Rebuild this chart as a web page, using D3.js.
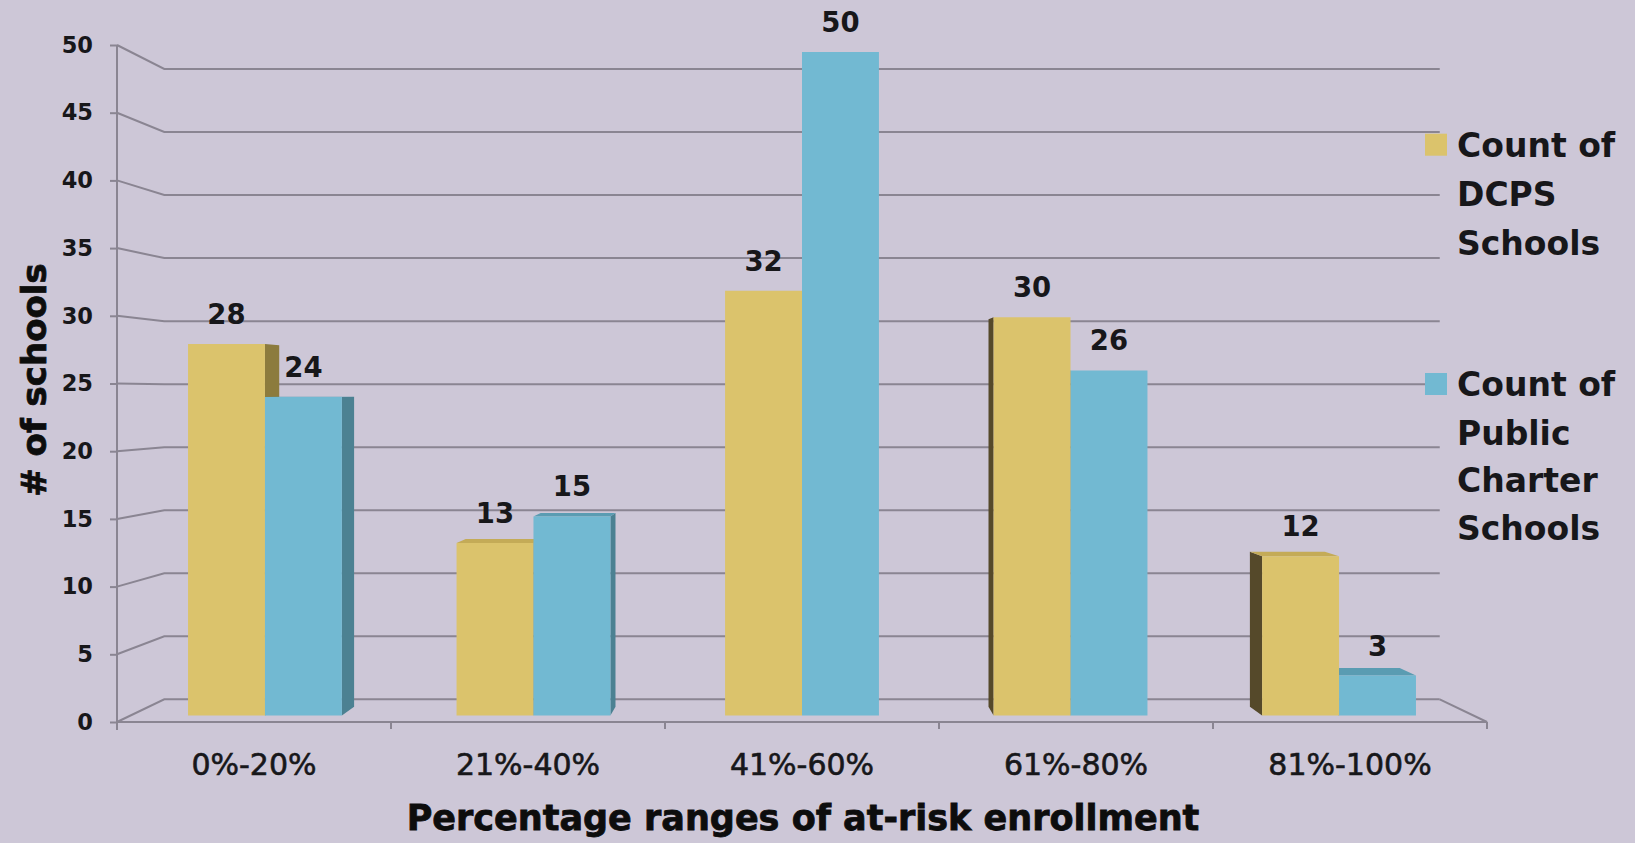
<!DOCTYPE html>
<html><head><meta charset="utf-8">
<script src="https://cdn.jsdelivr.net/npm/d3@7"></script>
<style>html,body{margin:0;padding:0;background:#cdc7d7;} svg{display:block}</style>
</head><body>
<svg id="c" width="1635" height="843"></svg>
<script>
const categories = ["0%-20%","21%-40%","41%-60%","61%-80%","81%-100%"];
const seriesKeys = ["dcps","charter"];
const dcpsCounts = [28,13,32,30,12];
const charterCounts = [24,15,50,26,3];
const yTicks = [0,5,10,15,20,25,30,35,40,45,50];
const legendLines = [["Count of","DCPS","Schools"],["Count of","Public","Charter","Schools"]];
const yTitle = "# of schools";
const xTitle = "Percentage ranges of at-risk enrollment";

const W=1635,H=843;
const svg=d3.select("#c");
svg.append("rect").attr("width",W).attr("height",H).attr("fill","#cdc7d7");

const VP=[802,393];
const S_BACK=0.931, S_BAR=0.98, S_BAR_BACK=0.954;
const proj=(x,yy,s)=>[VP[0]+(x-VP[0])*s, VP[1]+(yy-VP[1])*s];

const x0=d3.scaleBand().domain(categories).range([117,1487]).paddingInner(0.427).paddingOuter(0.2135);
const x1=d3.scaleBand().domain(seriesKeys).range([0,x0.bandwidth()]);
const y=d3.scaleLinear().domain([0,50]).range([722,45]);

const gridColor="#8a8592";
const FONT="DejaVu Sans";
const textColor="#17171a";

// back wall + left wall gridlines
const grid=svg.append("g").attr("fill","none").attr("stroke",gridColor).attr("stroke-width",2);
yTicks.forEach(t=>{
  const yf=y(t);
  const b1=proj(117,yf,S_BACK), b2=proj(1487,yf,S_BACK);
  grid.append("path").attr("d",`M117,${yf}L${b1[0]},${b1[1]}L${b2[0]},${b2[1]}`);
});
// floor front and right edges
{
  const yf=y(0); const b2=proj(1487,yf,S_BACK);
  grid.append("path").attr("d",`M117,${yf}L1487,${yf}L${b2[0]},${b2[1]}`);
  for(let i=1;i<=categories.length;i++){
    const xb=x0.range()[0]+i*x0.step();
    grid.append("line").attr("x1",xb).attr("x2",xb).attr("y1",yf).attr("y2",yf+7);
  }
  grid.append("line").attr("x1",117).attr("x2",117).attr("y1",y(50)).attr("y2",yf+8);
}

// y axis labels
const yAxis=svg.append("g").attr("transform","translate(117,0)")
  .call(d3.axisLeft(y).tickValues(yTicks).tickSize(7).tickPadding(17).tickFormat(d3.format("d")));
yAxis.select(".domain").remove();
yAxis.selectAll(".tick line").attr("stroke",gridColor).attr("stroke-width",2);
yAxis.selectAll("text").attr("font-family",FONT).attr("font-weight","bold").attr("font-size",22.5).attr("fill",textColor);

// x axis labels
const xAxis=svg.append("g").attr("transform",`translate(0,${y(0)})`)
  .call(d3.axisBottom(x0).tickSize(0).tickPadding(32));
xAxis.select(".domain").remove();
xAxis.selectAll("text").attr("font-family",FONT).attr("font-size",30).attr("fill",textColor)
  .attr("stroke",textColor).attr("stroke-width",0.6);

// bars
const colors={dcps:{front:"#dbc36c",right:"#8c7b3d",left:"#55492a",top:"#c4ab57"},
              charter:{front:"#72b9d2",right:"#4c8192",left:"#3e6a78",top:"#5a9cb2"}};
const bars=[];
categories.forEach((c,i)=>{
  seriesKeys.forEach((k,j)=>{
    const v=(k==="dcps"?dcpsCounts:charterCounts)[i];
    const xl=x0(c)+x1(k), xr=xl+x1.bandwidth();
    bars.push({c,k,v,xl,xr,cx:(xl+xr)/2});
  });
});
bars.sort((a,b)=>Math.abs(b.cx-VP[0])-Math.abs(a.cx-VP[0]));
const gb=svg.append("g");
const poly=(pts,fill)=>gb.append("polygon").attr("points",pts.map(p=>p.join(",")).join(" ")).attr("fill",fill);
bars.forEach(b=>{
  const yt=y(b.v), yb=y(0);
  const fTL=proj(b.xl,yt,S_BAR), fTR=proj(b.xr,yt,S_BAR), fBL=proj(b.xl,yb,S_BAR), fBR=proj(b.xr,yb,S_BAR);
  const bTL=proj(b.xl,yt,S_BAR_BACK), bTR=proj(b.xr,yt,S_BAR_BACK), bBL=proj(b.xl,yb,S_BAR_BACK), bBR=proj(b.xr,yb,S_BAR_BACK);
  const col=colors[b.k];
  if(fTR[0]<VP[0]-1) poly([fTR,bTR,bBR,fBR],col.right);
  else if(fTL[0]>VP[0]+1) poly([fTL,bTL,bBL,fBL],col.left);
  if(fTL[1]>VP[1]) poly([fTL,fTR,bTR,bTL],col.top);
  poly([fTL,fTR,fBR,fBL],col.front);
  gb.append("text").attr("x",(fTL[0]+fTR[0])/2).attr("y",fTL[1]-20)
    .attr("text-anchor","middle").attr("font-family",FONT).attr("font-weight","bold")
    .attr("font-size",27.5).attr("fill",textColor).text(b.v);
});

// legend
const lg=svg.append("g");
const legY=[[156.7,206,255],[396,445,491.7,540]];
legendLines.forEach((lines,i)=>{
  lg.append("rect").attr("x",1425).attr("y",legY[i][0]-23).attr("width",22).attr("height",22)
    .attr("fill",colors[seriesKeys[i]].front);
  lines.forEach((t,li)=>{
    lg.append("text").attr("x",1457).attr("y",legY[i][li]).attr("font-family",FONT)
      .attr("font-weight","bold").attr("font-size",33).attr("fill",textColor).text(t);
  });
});

// titles
svg.append("text").attr("transform","translate(46,380) rotate(-90)").attr("text-anchor","middle")
  .attr("font-family",FONT).attr("font-weight","bold").attr("font-size",34).attr("fill","#0d0d0d")
  .attr("stroke","#0d0d0d").attr("stroke-width",0.8).text(yTitle);
svg.append("text").attr("x",803).attr("y",830).attr("text-anchor","middle")
  .attr("font-family",FONT).attr("font-weight","bold").attr("font-size",35).attr("fill","#0d0d0d")
  .attr("stroke","#0d0d0d").attr("stroke-width",0.8).text(xTitle);
</script>
</body></html>
